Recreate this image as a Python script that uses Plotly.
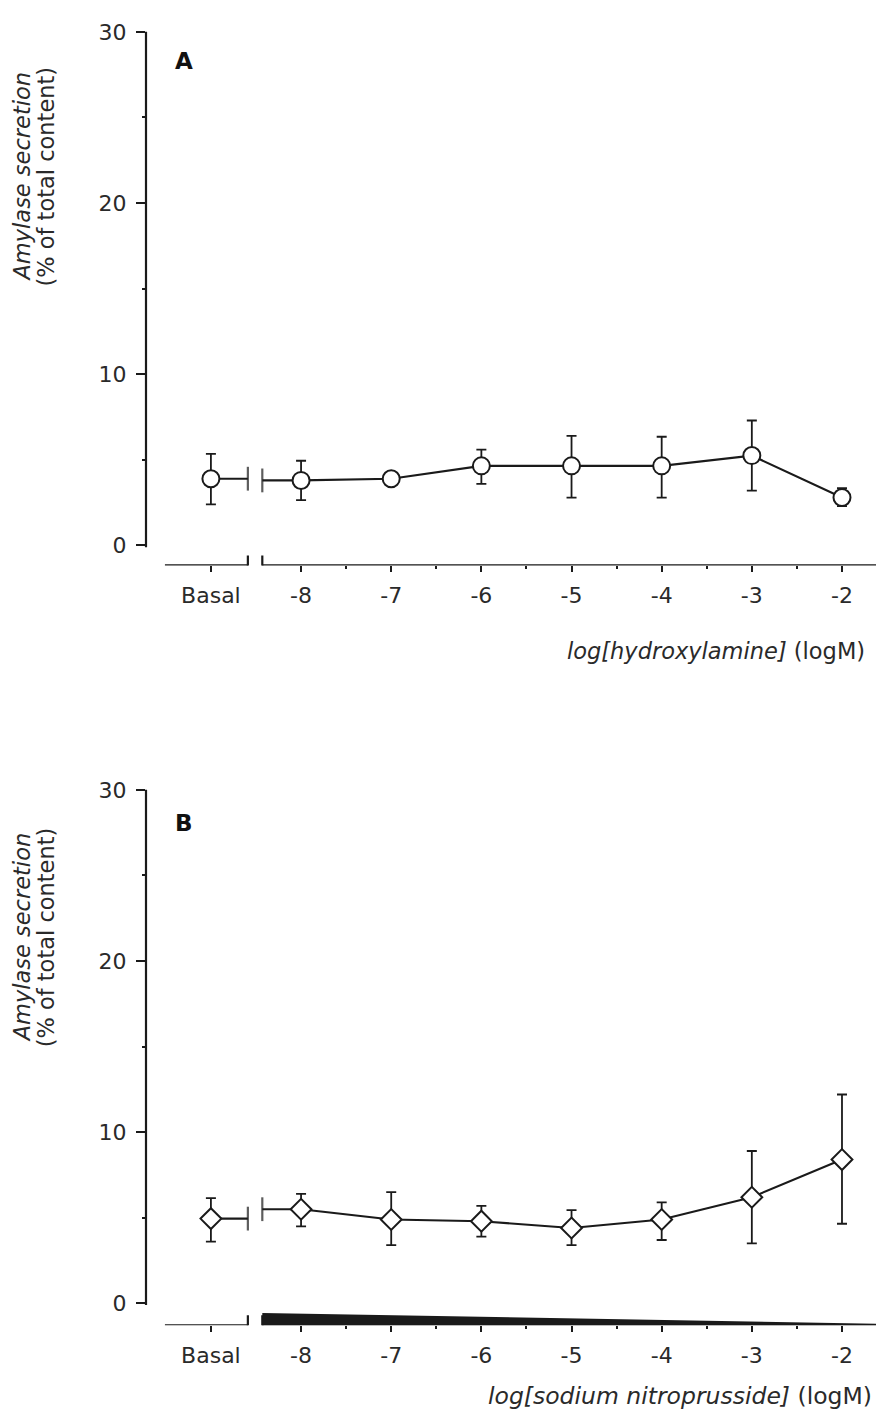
import plotly.graph_objects as go

# ---- data ----
conc = [-8, -7, -6, -5, -4, -3, -2]
tick_labels = ["Basal", "-8", "-7", "-6", "-5", "-4", "-3", "-2"]

basal_A = 3.9
basal_A_hi = 5.35
basal_A_lo = 2.4
hyd_mean = [3.8, 3.9, 4.65, 4.65, 4.65, 5.25, 2.8]
hyd_hi = [4.95, 3.9, 5.6, 6.4, 6.35, 7.3, 3.35]
hyd_lo = [2.65, 3.9, 3.6, 2.8, 2.8, 3.2, 2.3]

basal_B = 4.95
basal_B_hi = 6.15
basal_B_lo = 3.6
snp_mean = [5.5, 4.9, 4.8, 4.4, 4.9, 6.2, 8.4]
snp_hi = [6.4, 6.5, 5.7, 5.45, 5.9, 8.9, 12.2]
snp_lo = [4.5, 3.4, 3.9, 3.4, 3.7, 3.5, 4.65]

BASAL_X = -9
BRK_L, BRK_R = -8.59, -8.43
XR = [-9.72, -1.534]
W, H = 876, 1405   # page body has an 8px margin
OFF = 8


def PX(x):
    return (x - OFF) / W


def PY(y):
    return 1 - (y - OFF) / H


WIDE = "DejaVu Sans, Liberation Sans, sans-serif"
INK = "#1a1a1a"
TXT = "#2a2a2a"
LW = 2.1

fig = go.Figure()

panels = [
    dict(xa="x", ya="y", basal=basal_A, bhi=basal_A_hi, blo=basal_A_lo,
         mean=hyd_mean, hi=hyd_hi, lo=hyd_lo, symbol="circle", size=17,
         yr=[-1.165, 30.46], dom=[PY(563), PY(20)],
         letter="A", xtitle="<i>log[hydroxylamine]</i> (logM)", xt_x=PX(867), xt_size=22.5,
         xt_y=PY(649), yt_y=PY(173), let_y=PY(57)),
    dict(xa="x2", ya="y2", basal=basal_B, bhi=basal_B_hi, blo=basal_B_lo,
         mean=snp_mean, hi=snp_hi, lo=snp_lo, symbol="diamond", size=16,
         yr=[-1.28, 30.47], dom=[PY(1325), PY(780)],
         letter="B", xtitle="<i>log[sodium nitroprusside]</i> (logM)", xt_x=PX(874), xt_size=23.5,
         xt_y=PY(1396), yt_y=PY(936), let_y=PY(821)),
]

for p in panels:
    v8 = p["mean"][0]
    # connectors across the axis break
    fig.add_trace(go.Scatter(
        x=[BASAL_X, BRK_L], y=[p["basal"], p["basal"]], xaxis=p["xa"], yaxis=p["ya"],
        mode="lines+markers", line=dict(color=INK, width=LW),
        marker=dict(symbol=["circle", "line-ns"], size=[0, 17],
                    line=dict(color=INK, width=2.2)),
        showlegend=False, hoverinfo="skip"))
    fig.add_trace(go.Scatter(
        x=[BRK_R, conc[0]], y=[v8, v8], xaxis=p["xa"], yaxis=p["ya"],
        mode="lines+markers", line=dict(color=INK, width=LW),
        marker=dict(symbol=["line-ns", "circle"], size=[17, 0],
                    line=dict(color=INK, width=2.2)),
        showlegend=False, hoverinfo="skip"))
    # basal point
    fig.add_trace(go.Scatter(
        x=[BASAL_X], y=[p["basal"]], xaxis=p["xa"], yaxis=p["ya"], mode="markers",
        error_y=dict(type="data", symmetric=False, array=[p["bhi"] - p["basal"]],
                     arrayminus=[p["basal"] - p["blo"]], color=INK, thickness=1.8, width=5),
        marker=dict(symbol=p["symbol"], size=p["size"], color="white",
                    line=dict(color=INK, width=2)),
        showlegend=False))
    # concentration series
    fig.add_trace(go.Scatter(
        x=conc, y=p["mean"], xaxis=p["xa"], yaxis=p["ya"], mode="lines+markers",
        line=dict(color=INK, width=LW),
        error_y=dict(type="data", symmetric=False,
                     array=[h - m for h, m in zip(p["hi"], p["mean"])],
                     arrayminus=[m - l for m, l in zip(p["mean"], p["lo"])],
                     color=INK, thickness=1.8, width=5),
        marker=dict(symbol=p["symbol"], size=p["size"], color="white",
                    line=dict(color=INK, width=2)),
        showlegend=False))

axis_common = dict(showgrid=False, zeroline=False, showline=False,
                   ticks="outside", tickcolor=INK, tickwidth=1.6,
                   tickfont=dict(family=WIDE, size=22, color=TXT))

shapes = []
annotations = []
for i, p in enumerate(panels):
    xk = "xaxis" if i == 0 else "xaxis2"
    yk = "yaxis" if i == 0 else "yaxis2"
    xref = p["xa"]
    yref = p["ya"]
    fig.update_layout({
        xk: dict(axis_common, domain=[PX(146), 1.0], range=XR, anchor=yref,
                 tickvals=[BASAL_X] + conc, ticktext=tick_labels, ticklen=6,
                 ticklabelstandoff=4,
                 minor=dict(tickvals=[-7.5, -6.5, -5.5, -4.5, -3.5, -2.5],
                            ticks="outside", ticklen=3, tickwidth=1.6, tickcolor=INK)),
        yk: dict(axis_common, domain=p["dom"], range=p["yr"], anchor=xref,
                 tickvals=[0, 10, 20, 30], ticklen=9, ticklabelstandoff=5,
                 minor=dict(tickvals=[5, 15, 25], ticks="outside", ticklen=3,
                            tickwidth=1.6, tickcolor=INK)),
    })
    # y axis line from 0 to 30
    shapes.append(dict(type="line", xref=f"{xref} domain", yref=yref, x0=0, x1=0,
                       y0=-0.1, y1=30, line=dict(color=INK, width=2.2)))
    # broken x axis line
    ybot = p["yr"][0]
    shapes.append(dict(type="line", xref=xref, yref=yref, x0=-9.51, x1=BRK_L,
                       y0=ybot, y1=ybot, line=dict(color=INK, width=2.2)))
    shapes.append(dict(type="line", xref=xref, yref=yref, x0=BRK_R, x1=XR[1],
                       y0=ybot, y1=ybot, line=dict(color=INK, width=2.2)))
    for bx in (BRK_L, BRK_R):
        shapes.append(dict(type="line", xref=xref, yref=yref, ysizemode="pixel",
                           yanchor=ybot, x0=bx, x1=bx, y0=-9, y1=10,
                           line=dict(color=INK, width=2.2)))
    annotations.append(dict(text="<b>" + p["letter"] + "</b>", xref="paper", yref="paper",
                            x=PX(184), y=p["let_y"], showarrow=False,
                            font=dict(family=WIDE, size=23, color="#111"),
                            xanchor="center", yanchor="middle"))
    annotations.append(dict(text="<i>Amylase secretion</i>",
                            xref="paper", yref="paper", x=PX(22), y=p["yt_y"],
                            textangle=-90, showarrow=False, xanchor="center",
                            yanchor="middle",
                            font=dict(family=WIDE, size=22.5, color=TXT)))
    annotations.append(dict(text="(% of total content)",
                            xref="paper", yref="paper", x=PX(46), y=p["yt_y"],
                            textangle=-90, showarrow=False, xanchor="center",
                            yanchor="middle",
                            font=dict(family=WIDE, size=22.5, color=TXT)))
    annotations.append(dict(text=p["xtitle"], xref="paper", yref="paper",
                            x=p["xt_x"], y=p["xt_y"], xanchor="right", yanchor="middle",
                            showarrow=False,
                            font=dict(family=WIDE, size=p["xt_size"], color=TXT)))

# dark wedge artefact along the lower panel's axis
yb = panels[1]["yr"][0]
shapes.append(dict(type="path", xref="x2", yref="y2", fillcolor=INK,
                   line=dict(color=INK, width=0),
                   path=f"M {BRK_R},{yb} L {BRK_R},{yb + 0.72} L {XR[1]},{yb + 0.08} L {XR[1]},{yb} Z"))

fig.update_layout(width=W, height=H, margin=dict(l=0, r=0, t=0, b=0),
                  paper_bgcolor="white", plot_bgcolor="white",
                  shapes=shapes, annotations=annotations,
                  font=dict(family=WIDE))

fig.write_html("out.html")
